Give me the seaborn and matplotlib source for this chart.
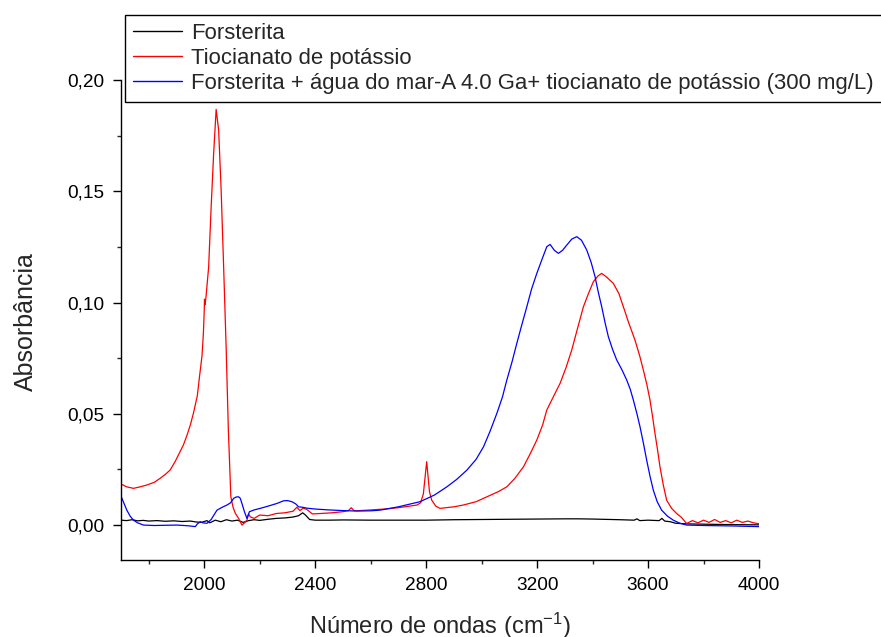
import matplotlib
matplotlib.use("Agg")
import matplotlib.pyplot as plt
import seaborn as sns
import pandas as pd

# ---- data ----
forsterita_pts = [
    (1701, 0.0022), (1720, 0.0020), (1740, 0.0024), (1760, 0.0019), (1780, 0.0021),
    (1800, 0.0018), (1830, 0.0020), (1860, 0.0017), (1890, 0.0019), (1920, 0.0016),
    (1950, 0.0018), (1970, 0.0014), (1990, 0.0012), (2010, 0.0020), (2020, 0.0010),
    (2040, 0.0022), (2060, 0.0015), (2080, 0.0024), (2100, 0.0018), (2120, 0.0022),
    (2140, 0.0012), (2160, 0.0020), (2180, 0.0024), (2200, 0.0021), (2230, 0.0026),
    (2260, 0.0030), (2290, 0.0032), (2320, 0.0036), (2340, 0.0042), (2355, 0.0055),
    (2365, 0.0045), (2380, 0.0025), (2400, 0.0022), (2450, 0.0022), (2500, 0.0023),
    (2600, 0.0022), (2700, 0.0022), (2800, 0.0022), (2900, 0.0024), (3000, 0.0025),
    (3100, 0.0026), (3200, 0.0027), (3300, 0.0028), (3350, 0.0028), (3400, 0.0027),
    (3500, 0.0024), (3550, 0.0022), (3560, 0.0028), (3570, 0.0020), (3600, 0.0022),
    (3640, 0.0020), (3650, 0.0030), (3660, 0.0018), (3680, 0.0015), (3700, 0.0008),
    (3750, 0.0005), (3800, 0.0004), (3900, 0.0002), (4000, 0.0001),
]

tiocianato_pts = [
    (1701, 0.0184), (1720, 0.0172), (1745, 0.0165), (1770, 0.0172), (1793, 0.0180),
    (1820, 0.0192), (1841, 0.0210), (1860, 0.0228), (1877, 0.0247), (1895, 0.0285),
    (1907, 0.0315), (1925, 0.0360), (1938, 0.0404), (1950, 0.0450), (1961, 0.0502),
    (1975, 0.0580), (1983, 0.0667), (1992, 0.0760), (1997, 0.0862), (2000, 0.0960),
    (2001, 0.1015), (2003, 0.0990), (2006, 0.1020), (2016, 0.1160), (2025, 0.1430),
    (2034, 0.1670), (2043, 0.1868), (2052, 0.1775), (2061, 0.1506), (2070, 0.1160),
    (2079, 0.0800), (2087, 0.0427), (2096, 0.0127), (2104, 0.0080), (2112, 0.0053),
    (2124, 0.0030), (2136, 0.0000), (2145, 0.0010), (2154, 0.0022), (2160, 0.0050),
    (2166, 0.0037), (2180, 0.0030), (2200, 0.0045), (2230, 0.0042), (2260, 0.0052),
    (2290, 0.0055), (2320, 0.0062), (2334, 0.0080), (2345, 0.0065), (2357, 0.0076),
    (2370, 0.0070), (2390, 0.0050), (2420, 0.0052), (2460, 0.0055), (2500, 0.0060),
    (2520, 0.0065), (2530, 0.0078), (2540, 0.0065), (2560, 0.0065), (2600, 0.0068),
    (2650, 0.0072), (2700, 0.0078), (2740, 0.0085), (2767, 0.0090), (2780, 0.0100),
    (2790, 0.0140), (2802, 0.0285), (2812, 0.0150), (2820, 0.0112), (2835, 0.0085),
    (2850, 0.0075), (2900, 0.0082), (2934, 0.0090), (2980, 0.0105), (3019, 0.0127),
    (3060, 0.0150), (3091, 0.0172), (3120, 0.0210), (3151, 0.0262), (3175, 0.0320),
    (3199, 0.0382), (3220, 0.0450), (3235, 0.0517), (3260, 0.0580), (3283, 0.0637),
    (3305, 0.0710), (3325, 0.0787), (3345, 0.0880), (3367, 0.0981), (3385, 0.1040),
    (3403, 0.1094), (3420, 0.1120), (3433, 0.1131), (3450, 0.1115), (3475, 0.1086),
    (3495, 0.1040), (3511, 0.0981), (3530, 0.0910), (3553, 0.0831), (3570, 0.0760),
    (3583, 0.0697), (3596, 0.0630), (3607, 0.0562), (3616, 0.0490), (3625, 0.0412),
    (3634, 0.0340), (3643, 0.0262), (3655, 0.0180), (3667, 0.0112), (3685, 0.0075),
    (3703, 0.0052), (3720, 0.0035), (3739, 0.0007), (3760, 0.0020), (3780, 0.0010),
    (3800, 0.0022), (3820, 0.0012), (3840, 0.0025), (3860, 0.0012), (3880, 0.0020),
    (3900, 0.0010), (3920, 0.0022), (3940, 0.0012), (3960, 0.0018), (3980, 0.0010),
    (4000, 0.0006),
]

mistura_pts = [
    (1701, 0.0127), (1710, 0.0100), (1721, 0.0067), (1733, 0.0040), (1745, 0.0022),
    (1760, 0.0010), (1781, 0.0000), (1820, -0.0002), (1860, -0.0001), (1901, 0.0000),
    (1940, -0.0003), (1968, -0.0007), (1975, 0.0005), (1986, 0.0015), (1995, 0.0010),
    (2010, 0.0008), (2025, 0.0025), (2046, 0.0067), (2065, 0.0080), (2082, 0.0090),
    (2095, 0.0100), (2106, 0.0120), (2115, 0.0126), (2124, 0.0127), (2130, 0.0120),
    (2136, 0.0097), (2145, 0.0060), (2154, 0.0030), (2163, 0.0060), (2180, 0.0068),
    (2202, 0.0075), (2230, 0.0085), (2262, 0.0097), (2286, 0.0109), (2300, 0.0110),
    (2316, 0.0105), (2330, 0.0095), (2340, 0.0082), (2355, 0.0080), (2370, 0.0076),
    (2400, 0.0072), (2450, 0.0068), (2500, 0.0065), (2550, 0.0063), (2600, 0.0064),
    (2634, 0.0067), (2700, 0.0082), (2778, 0.0105), (2830, 0.0135), (2875, 0.0172),
    (2910, 0.0205), (2947, 0.0247), (2980, 0.0295), (3007, 0.0352), (3030, 0.0420),
    (3055, 0.0502), (3075, 0.0575), (3091, 0.0652), (3110, 0.0735), (3127, 0.0817),
    (3145, 0.0900), (3163, 0.0981), (3180, 0.1060), (3199, 0.1131), (3218, 0.1195),
    (3235, 0.1251), (3247, 0.1261), (3262, 0.1235), (3277, 0.1221), (3292, 0.1235),
    (3307, 0.1258), (3325, 0.1285), (3343, 0.1296), (3360, 0.1280), (3379, 0.1236),
    (3395, 0.1180), (3409, 0.1116), (3420, 0.1050), (3433, 0.0981), (3445, 0.0910),
    (3457, 0.0846), (3472, 0.0790), (3487, 0.0742), (3505, 0.0700), (3523, 0.0652),
    (3536, 0.0610), (3547, 0.0562), (3560, 0.0500), (3571, 0.0442), (3583, 0.0370),
    (3595, 0.0292), (3607, 0.0220), (3619, 0.0157), (3633, 0.0105), (3649, 0.0067),
    (3670, 0.0040), (3691, 0.0022), (3715, 0.0008), (3739, 0.0000), (3800, -0.0002),
    (3900, -0.0004), (4000, -0.0007),
]

series_names = [
    "Forsterita",
    "Tiocianato de potássio",
    "Forsterita + água do mar-A 4.0 Ga+ tiocianato de potássio (300 mg/L)",
]
series_colors = ["#000000", "#FF0000", "#0000FF"]
x_ticks = [2000, 2400, 2800, 3200, 3600, 4000]
y_ticks = [0.00, 0.05, 0.10, 0.15, 0.20]
y_tick_labels = ["0,00", "0,05", "0,10", "0,15", "0,20"]

frames = []
for name, pts in zip(series_names, [forsterita_pts, tiocianato_pts, mistura_pts]):
    df = pd.DataFrame(pts, columns=["wn", "abs"])
    df["serie"] = name
    frames.append(df)
data = pd.concat(frames, ignore_index=True)

sns.set_style("ticks")
plt.rcParams["font.family"] = ["Liberation Sans", "DejaVu Sans"]
plt.rcParams["mathtext.fontset"] = "custom"
plt.rcParams["mathtext.rm"] = "Liberation Sans"
plt.rcParams["mathtext.it"] = "Liberation Sans"

W, H = 881, 637
fig = plt.figure(figsize=(W / 100, H / 100), dpi=100)
ax = fig.add_axes([121 / W, 1 - 560 / H, (759 - 121) / W, (560 - 80) / H])

sns.lineplot(data=data, x="wn", y="abs", hue="serie", hue_order=series_names,
             palette=series_colors, estimator=None, sort=False, linewidth=0.9,
             ax=ax)

ax.set_xlim(1700, 4000)
ax.set_ylim(-0.0157, 0.2)
ax.set_xticks(x_ticks)
ax.set_xticklabels([str(v) for v in x_ticks])
ax.set_xticks([1800, 2200, 2600, 3000, 3400, 3800], minor=True)
ax.set_yticks(y_ticks)
ax.set_yticklabels(y_tick_labels)
ax.set_yticks([0.025, 0.075, 0.125, 0.175], minor=True)
ax.tick_params(axis="both", which="major", direction="out", length=5.5, width=1,
               labelsize=13.7, colors="black", pad=6.5)
ax.tick_params(axis="both", which="minor", direction="out", length=3, width=1)
for s in ["top", "right"]:
    ax.spines[s].set_visible(False)
for s in ["left", "bottom"]:
    ax.spines[s].set_linewidth(1.0)
    ax.spines[s].set_color("black")

ax.set_xlabel("Número de ondas (cm$^{\\mathregular{-1}}$)", fontsize=17)
ax.set_ylabel("Absorbância", fontsize=18)
ax.xaxis.set_label_coords(0.5, -0.106)
ax.yaxis.set_label_coords(-0.130, 0.496)

leg = ax.legend(loc="upper left", bbox_to_anchor=(125 / W, 1 - 15 / H),
                bbox_transform=fig.transFigure, borderaxespad=0, frameon=True,
                fancybox=False, edgecolor="black", framealpha=1, fontsize=15.9,
                handlelength=2.25, handletextpad=0.4, borderpad=0.35,
                labelspacing=0.19, title=None)
leg.get_frame().set_linewidth(1.0)
for line in leg.get_lines():
    line.set_linewidth(1.0)

fig.savefig("out.png", dpi=100)
